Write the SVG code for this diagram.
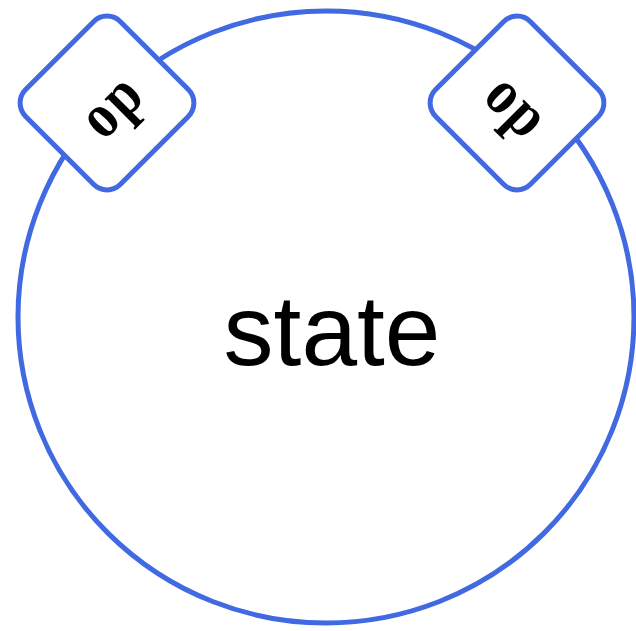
<svg xmlns="http://www.w3.org/2000/svg" width="636" height="631" viewBox="0 0 636 631">
<style>
.ln{fill:none;stroke:#4169e1;stroke-width:5}
.box{fill:#fff;stroke:#4169e1;stroke-width:5}
.op{font-family:"Liberation Serif",serif;font-weight:bold;font-size:64px;fill:#000;text-anchor:middle;letter-spacing:3px}
.st{font-family:"Liberation Sans",Arial,sans-serif;font-size:100px;fill:#000;text-anchor:middle}
</style>
<rect width="636" height="631" fill="#fff"/>
<g id="state">
<ellipse class="ln" cx="326" cy="317" rx="308" ry="306"/>
<text class="st" x="332" y="365">state</text>
</g>
<g id="op-left" transform="translate(107,103) rotate(45)">
<rect class="box" x="-67" y="-67" width="134" height="134" rx="19"/>
</g>
<g id="op-left-label"><text class="op" transform="translate(114,110) rotate(-45) scale(0.85,1)" x="2" y="15">op</text></g>
<g id="op-right" transform="translate(517,103) rotate(45)">
<rect class="box" x="-67" y="-67" width="134" height="134" rx="19"/>
</g>
<g id="op-right-label"><text class="op" transform="translate(513,109) rotate(45) scale(0.85,1)" x="2" y="15">op</text></g>
</svg>
